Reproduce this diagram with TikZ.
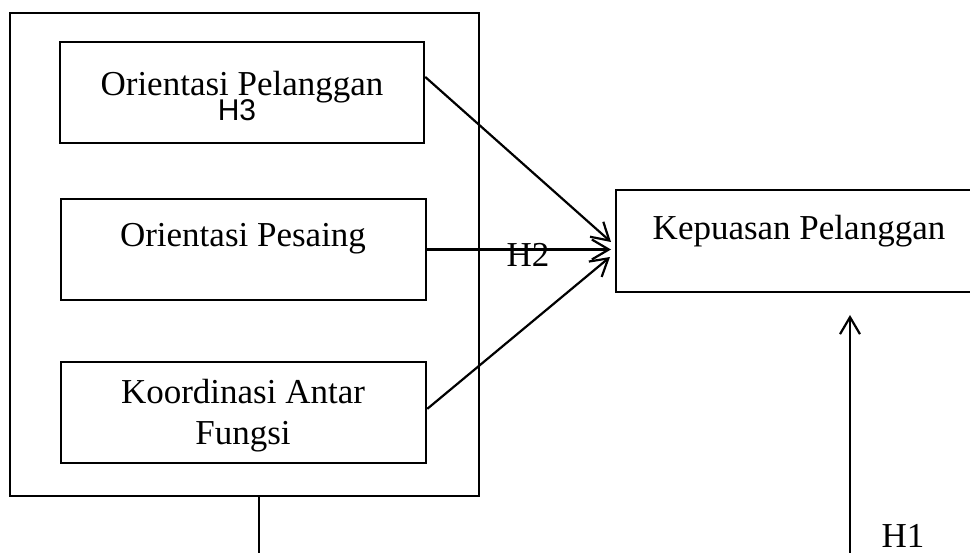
\documentclass[tikz,border=0pt]{standalone}
\usepackage{fontspec}
\setmainfont{Liberation Serif}
\newfontfamily\hsans{Liberation Sans}
\usetikzlibrary{arrows.meta,calc}
\begin{document}
\begin{tikzpicture}[x=1pt,y=-1pt,
  box/.style={draw, line width=2.5pt, rectangle, inner sep=0pt, minimum height=101pt},
  frame/.style={draw, line width=1.2pt, rectangle, inner sep=0pt},
  lbl/.style={inner sep=0pt, anchor=base, font=\fontsize{35}{41}\selectfont},
  hlbl/.style={inner sep=0pt, anchor=base, font=\hsans\fontsize{30}{30}\selectfont},
  conn/.style={line width=2.2pt, -{Straight Barb[length=17pt,width=20pt,line width=2.2pt]}},
  thinline/.style={line width=1.2pt}]
\useasboundingbox (0,0) rectangle (970,553);
% outer frame
\node[frame, minimum width=469pt, minimum height=483pt] (outer) at (244.5,254.5) {};
% boxes
\node[box, minimum width=364pt] (b1) at (242,92.5) {};
\node[box, minimum width=365pt] (b2) at (243.5,249.5) {};
\node[box, minimum width=365pt] (b3) at (243.5,412.5) {};
\node[box, minimum width=369pt, minimum height=102pt] (kp) at (800.5,241) {};
% texts
\node[lbl] (t1) at (242,96) {Orientasi Pelanggan};
\node[hlbl] (h3) at (237,121) {H3};
\node[lbl] (t2) at (243,247) {Orientasi Pesaing};
\node[lbl, align=center] (t3) at (243,445) {Koordinasi Antar\\Fungsi};
\node[lbl] (t4) at (799,240) {Kepuasan Pelanggan};
\node[lbl] (h2) at (528,267) {H2};
\node[lbl] (h1) at (903,547) {H1};
% coordinates
\coordinate (tip1) at (611,242);
\coordinate (tip2) at (611,249.5);
\coordinate (tip3) at (610,257);
\coordinate (bot) at (259,553);
\coordinate (h1foot) at (850,553);
\coordinate (h1tip) at (850,315);
% connectors
\draw[conn] ($(b1.north east)!0.35!(b1.south east)$) -- (tip1);
\draw[conn] (b2.east) -- (tip2);
\draw[conn] ($(b3.north east)!0.465!(b3.south east)$) -- (tip3);
\draw[thinline] (outer.south -| bot) -- (bot);
\draw[conn] (h1foot) -- (h1tip);
\end{tikzpicture}
\end{document}
